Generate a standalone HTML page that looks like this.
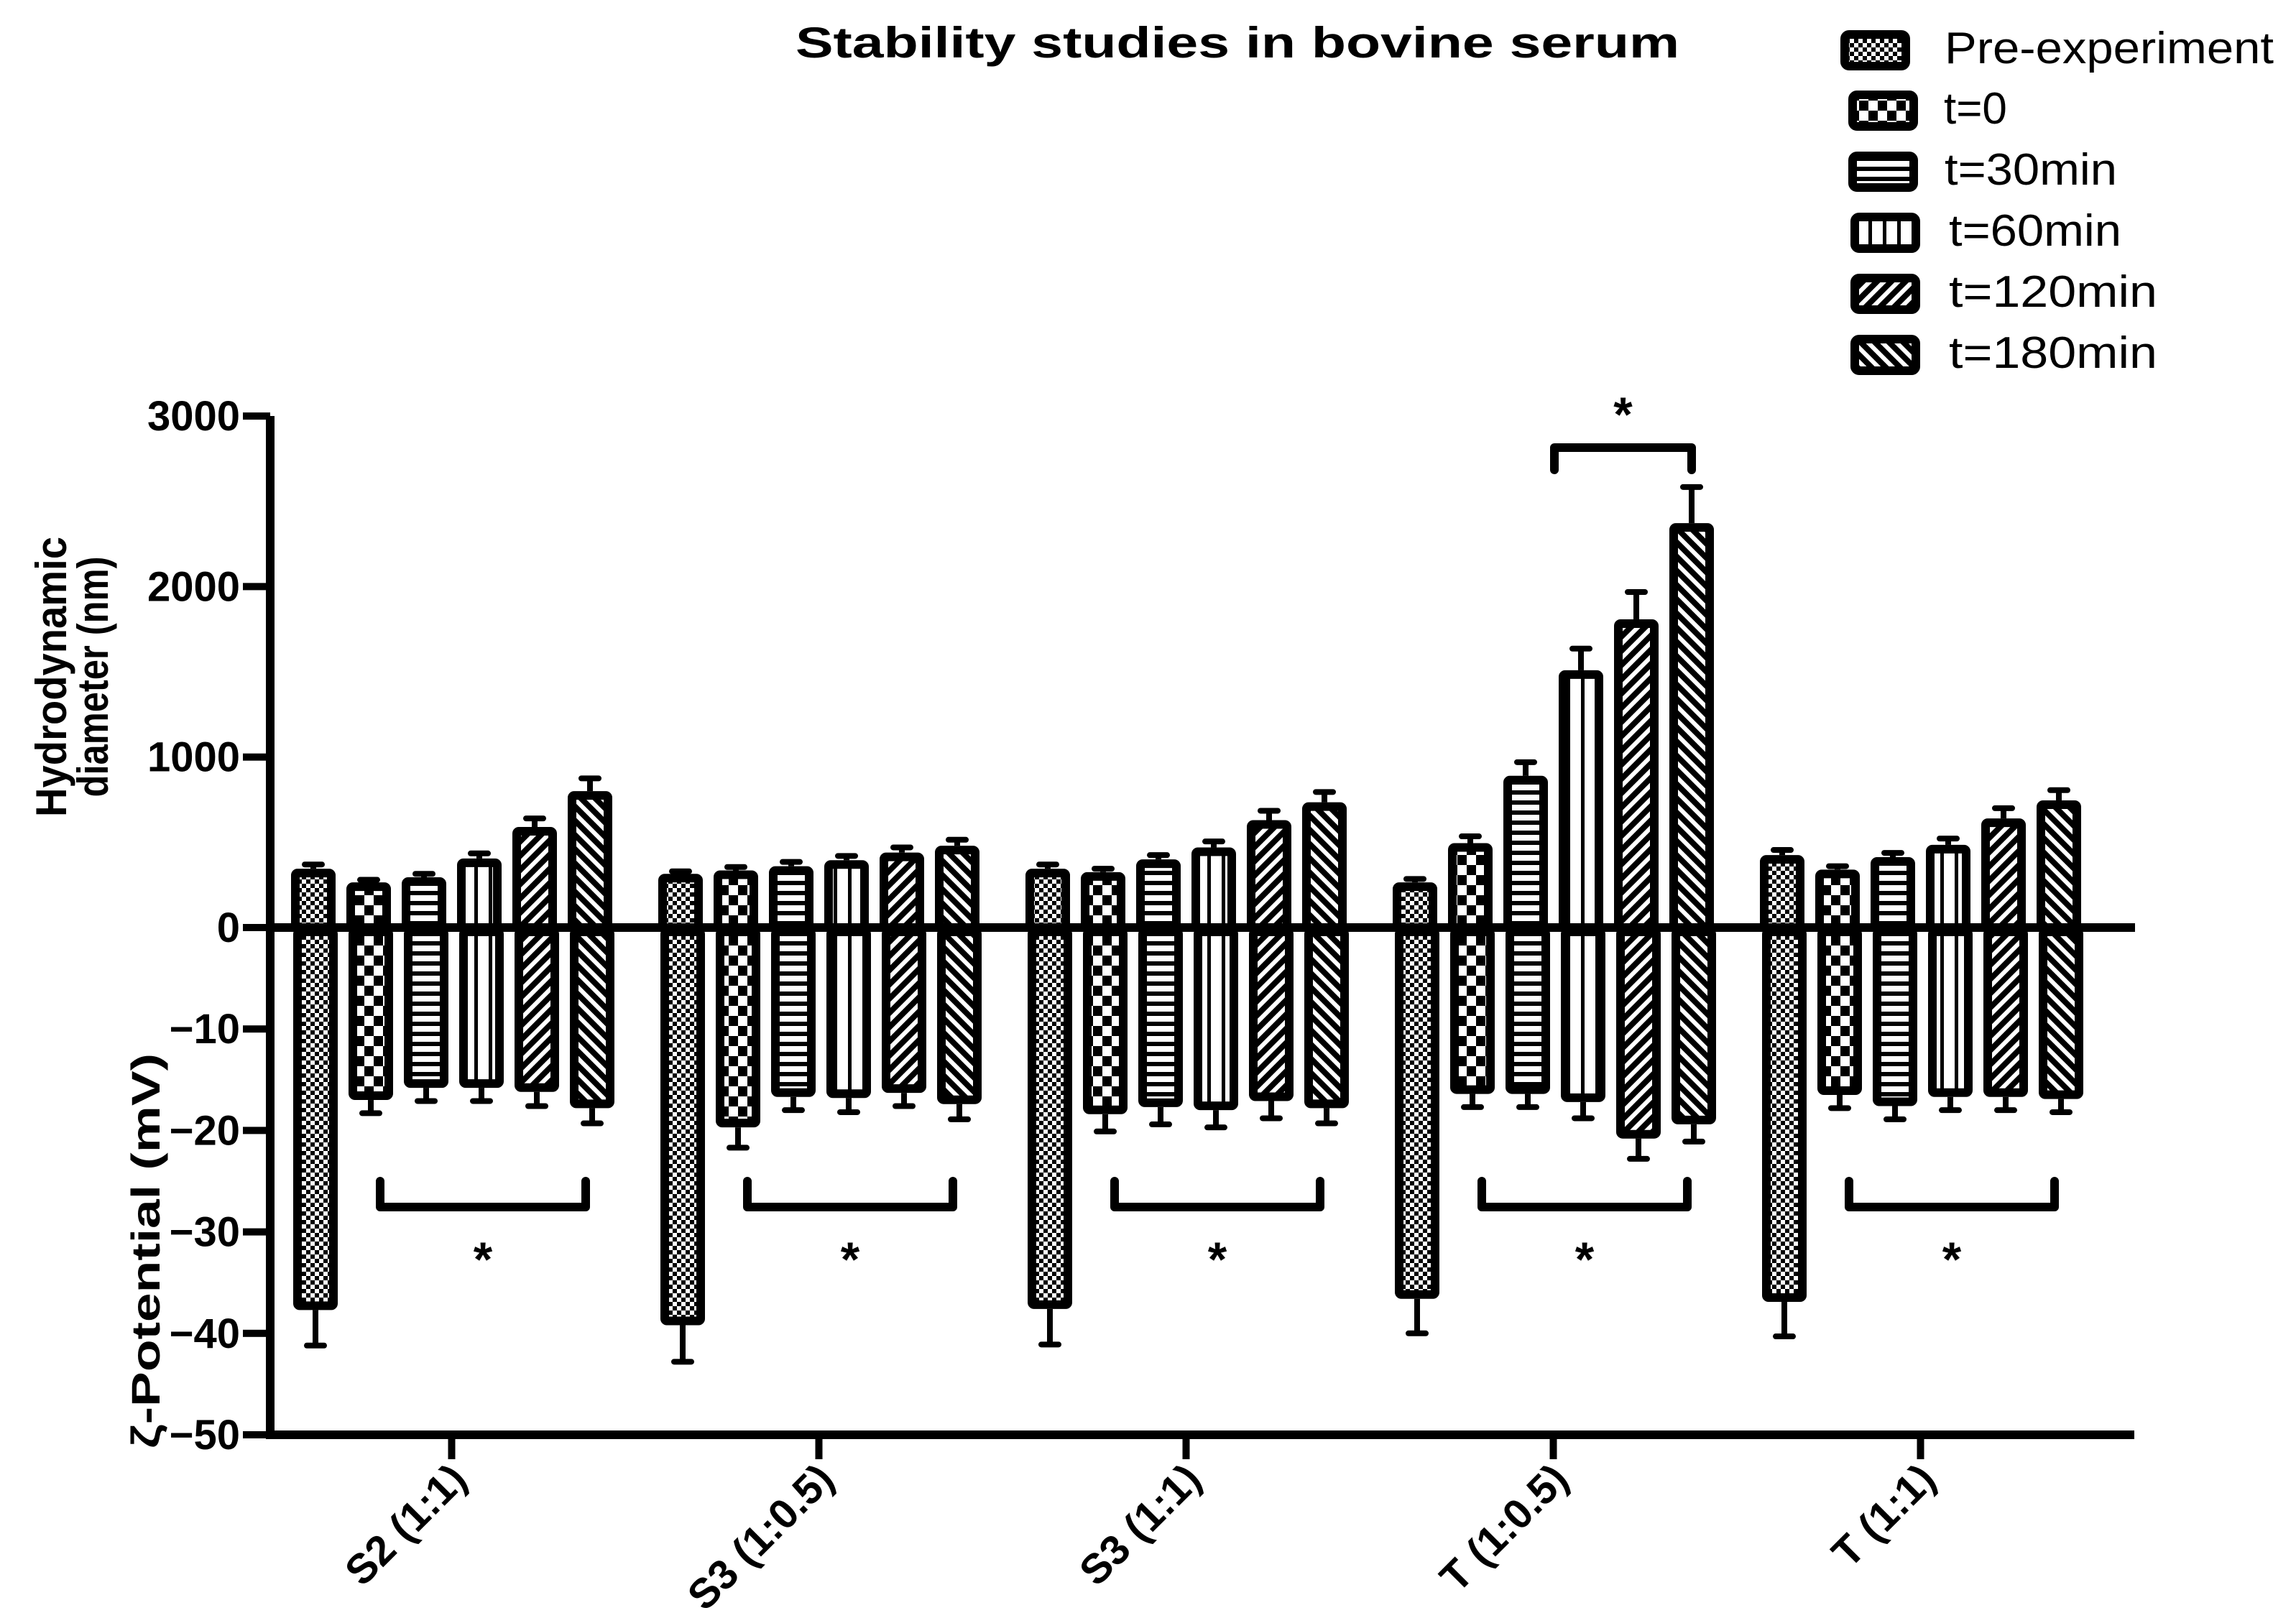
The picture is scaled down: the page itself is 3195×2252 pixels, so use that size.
<!DOCTYPE html>
<html><head><meta charset="utf-8"><style>
html,body{margin:0;padding:0;background:#fff;}
svg{display:block;}
text{font-family:"Liberation Sans",sans-serif;fill:#000;}
</style></head><body>
<svg id="chart" width="3195" height="2252" viewBox="0 0 3195 2252" xmlns="http://www.w3.org/2000/svg">
<defs>
<pattern id="p0" patternUnits="userSpaceOnUse" width="12" height="12"><rect width="12" height="12" fill="#000"/><rect x="0" y="0" width="6" height="6" fill="#fff"/><rect x="6" y="6" width="6" height="6" fill="#fff"/></pattern>
<pattern id="p1" patternUnits="userSpaceOnUse" width="26" height="28"><rect width="26" height="28" fill="#000"/><rect x="0" y="0" width="13" height="14" fill="#fff"/><rect x="13" y="14" width="13" height="14" fill="#fff"/></pattern>
<pattern id="p2" patternUnits="userSpaceOnUse" width="10" height="14"><rect width="10" height="14" fill="#000"/><rect x="0" y="0" width="10" height="8" fill="#fff"/></pattern>
<pattern id="p3" patternUnits="userSpaceOnUse" width="20" height="10"><rect width="20" height="10" fill="#fff"/><rect x="0" y="0" width="5" height="10" fill="#000"/></pattern>
<pattern id="p4" patternUnits="userSpaceOnUse" width="14" height="14" patternTransform="rotate(45)"><rect width="14" height="14" fill="#000"/><rect x="0" y="0" width="6" height="14" fill="#fff"/></pattern>
<pattern id="p5" patternUnits="userSpaceOnUse" width="14" height="14" patternTransform="rotate(-45)"><rect width="14" height="14" fill="#000"/><rect x="0" y="0" width="6" height="14" fill="#fff"/></pattern>
</defs>
<text x="1722" y="80" font-size="60" font-weight="bold" text-anchor="middle" textLength="1230" lengthAdjust="spacingAndGlyphs">Stability studies in bovine serum</text>
<g id="legend"></g>
<g id="plot"></g>
</svg>
<script>
const categories = ["S2 (1:1)", "S3 (1:0.5)", "S3 (1:1)", "T (1:0.5)", "T (1:1)"];
const seriesNames = ["Pre-experiment", "t=0", "t=30min", "t=60min", "t=120min", "t=180min"];
const diameter = [
  [345, 265, 295, 405, 590, 800],
  [315, 335, 360, 395, 440, 480],
  [345, 325, 400, 470, 630, 735],
  [265, 495, 890, 1509, 1808, 2372],
  [425, 340, 413, 485, 640, 746]
];
const diameterErr = [
  [25, 15, 20, 30, 50, 75],
  [15, 20, 25, 25, 30, 35],
  [25, 20, 25, 35, 55, 60],
  [20, 40, 80, 127, 160, 212],
  [30, 20, 25, 37, 60, 60]
];
const zeta = [
  [-37.7, -17.0, -15.8, -15.8, -16.2, -17.8],
  [-39.2, -19.7, -16.7, -16.8, -16.3, -17.4],
  [-37.6, -18.4, -17.7, -18.0, -17.1, -17.8],
  [-36.6, -16.4, -16.4, -17.2, -20.8, -19.4],
  [-36.9, -16.5, -17.6, -16.7, -16.7, -16.9]
];
const zetaErr = [
  [3.5, 1.3, 1.3, 1.3, 1.4, 1.5],
  [3.6, 2.0, 1.3, 1.4, 1.3, 1.5],
  [3.5, 1.7, 1.7, 1.7, 1.7, 1.5],
  [3.4, 1.3, 1.3, 1.6, 2.0, 1.7],
  [3.4, 1.3, 1.3, 1.3, 1.3, 1.3]
];
const diamTicks = [0, 1000, 2000, 3000];
const zetaTicks = [-10, -20, -30, -40, -50];

const NS = "http://www.w3.org/2000/svg";
const plot = document.getElementById('plot');
const legend = document.getElementById('legend');
function mk(tag, attrs, parent){const e=document.createElementNS(NS,tag);for(const k in attrs)e.setAttribute(k,attrs[k]);(parent||plot).appendChild(e);return e;}

const X0 = 376, Y0 = 1291;
function yD(v){return Y0 - v*0.2373;}
function yZ(v){return Y0 - v*14.12;}
const groupStart = 405, groupStep = 511, barStep = 77, barW = 62;
function barX(g,s){return groupStart + g*groupStep + s*barStep;}
function groupCenter(g){return barX(g,0) + (5*barStep+barW)/2;}

let a;
a = mk('rect',{x:X0-6,y:579,width:12,height:1424,fill:'#000'});


a = mk('rect',{x:X0-6,y:1991,width:2600,height:12,fill:'#000'});



diamTicks.forEach(v=>{
  const y=yD(v);
  const t=mk('rect',{x:338,y:y-5,width:38,height:10,fill:'#000'});
  
  
  const l=mk('text',{x:334,y:y+20,'font-size':58,'font-weight':'bold','text-anchor':'end'});
  l.textContent=String(v);
  
  
});
zetaTicks.forEach(v=>{
  const y=yZ(v);
  const t=mk('rect',{x:338,y:y-5,width:38,height:10,fill:'#000'});
  
  
  const l=mk('text',{x:334,y:y+20,'font-size':58,'font-weight':'bold','text-anchor':'end'});
  l.textContent='\u2212'+String(-v);
  
  
});

let t1=mk('text',{transform:'translate(92,942) rotate(-90)','font-size':60,'font-weight':'bold','text-anchor':'middle',textLength:390,lengthAdjust:'spacingAndGlyphs'});
t1.textContent='Hydrodynamic';


let t2=mk('text',{transform:'translate(150,942) rotate(-90)','font-size':60,'font-weight':'bold','text-anchor':'middle',textLength:335,lengthAdjust:'spacingAndGlyphs'});
t2.textContent='diameter (nm)';


let t3=mk('text',{transform:'translate(222,1741) rotate(-90)','font-size':56,'font-weight':'bold','text-anchor':'middle',textLength:550,lengthAdjust:'spacingAndGlyphs'});
t3.textContent='\u03B6-Potential (mV)';



categories.forEach((c,g)=>{
  for(let s=0;s<6;s++){
    const x=barX(g,s);
    const vt=yD(diameter[g][s]);
    const et=yD(diameter[g][s]+diameterErr[g][s]);
    const es=mk('rect',{x:x+barW/2-4,y:et,width:8,height:vt-et,fill:'#000'});
    
    
    const ec=mk('rect',{x:x+barW/2-16,y:et-4,width:32,height:8,rx:4,fill:'#000'});
    
    
    const b=mk('rect',{x:x+6,y:vt+6,width:barW-12,height:Math.max(0,Y0-vt-6),fill:'url(#p'+s+')',stroke:'#000','stroke-width':12,rx:3});
    
    
    const xl=x+3;
    const vb=yZ(zeta[g][s]);
    const eb=yZ(zeta[g][s]-zetaErr[g][s]);
    const es2=mk('rect',{x:xl+barW/2-4,y:vb,width:8,height:eb-vb,fill:'#000'});
    
    
    const ec2=mk('rect',{x:xl+barW/2-16,y:eb-4,width:32,height:8,rx:4,fill:'#000'});
    
    
    const b2=mk('rect',{x:xl+6,y:Y0+6,width:barW-12,height:Math.max(0,vb-Y0-12),fill:'url(#p'+s+')',stroke:'#000','stroke-width':12,rx:3});
    
    
  }
  const cx=groupCenter(g);
  const tk=mk('rect',{x:cx-5,y:2003,width:10,height:28,fill:'#000'});
  
  
  const lb=mk('text',{transform:'translate('+(cx+24)+',2062) rotate(-45)','font-size':58,'font-weight':'bold','text-anchor':'end'});
  lb.textContent=c;
  
  
  const bx1=barX(g,1)+barW/2+16, bx2=barX(g,5)+barW/2-6;
  const br=mk('path',{d:'M'+bx1+' 1644 L'+bx1+' 1680 L'+bx2+' 1680 L'+bx2+' 1644',fill:'none',stroke:'#000','stroke-width':12,'stroke-linecap':'round','stroke-linejoin':'round'});
  
  
  const st=mk('text',{x:(bx1+bx2)/2,y:1776,'font-size':68,'font-weight':'bold','text-anchor':'middle'});
  st.textContent='*';
  
  
});

a = mk('rect',{x:X0,y:Y0-6,width:2595,height:12,fill:'#000'});



const ux1=barX(3,3)-6, ux2=barX(3,5)+barW/2;
const ub=mk('path',{d:'M'+ux1+' 654 L'+ux1+' 623 L'+ux2+' 623 L'+ux2+' 654',fill:'none',stroke:'#000','stroke-width':12,'stroke-linecap':'round','stroke-linejoin':'round'});


const us=mk('text',{x:(ux1+ux2)/2,y:600,'font-size':68,'font-weight':'bold','text-anchor':'middle'});
us.textContent='*';



const legY=[88,172,257,342,427,512];
const legBx=[2561,2572,2572,2575,2575,2575];
const legTx=[2706,2705,2706,2712,2712,2712];
const legW=[458,0,240,240,290,290];
seriesNames.forEach((n,i)=>{
  const r=mk('rect',{x:legBx[i]+6,y:legY[i]-40,width:85,height:44,fill:'url(#p'+i+')',stroke:'#000','stroke-width':12,rx:6},legend);
  
  
  const attrs={x:legTx[i],y:legY[i],'font-size':62};
  if(legW[i]){attrs.textLength=legW[i];attrs.lengthAdjust='spacingAndGlyphs';}
  const tx=mk('text',attrs,legend);
  tx.textContent=n;
  
  
});
</script>
</body></html>
